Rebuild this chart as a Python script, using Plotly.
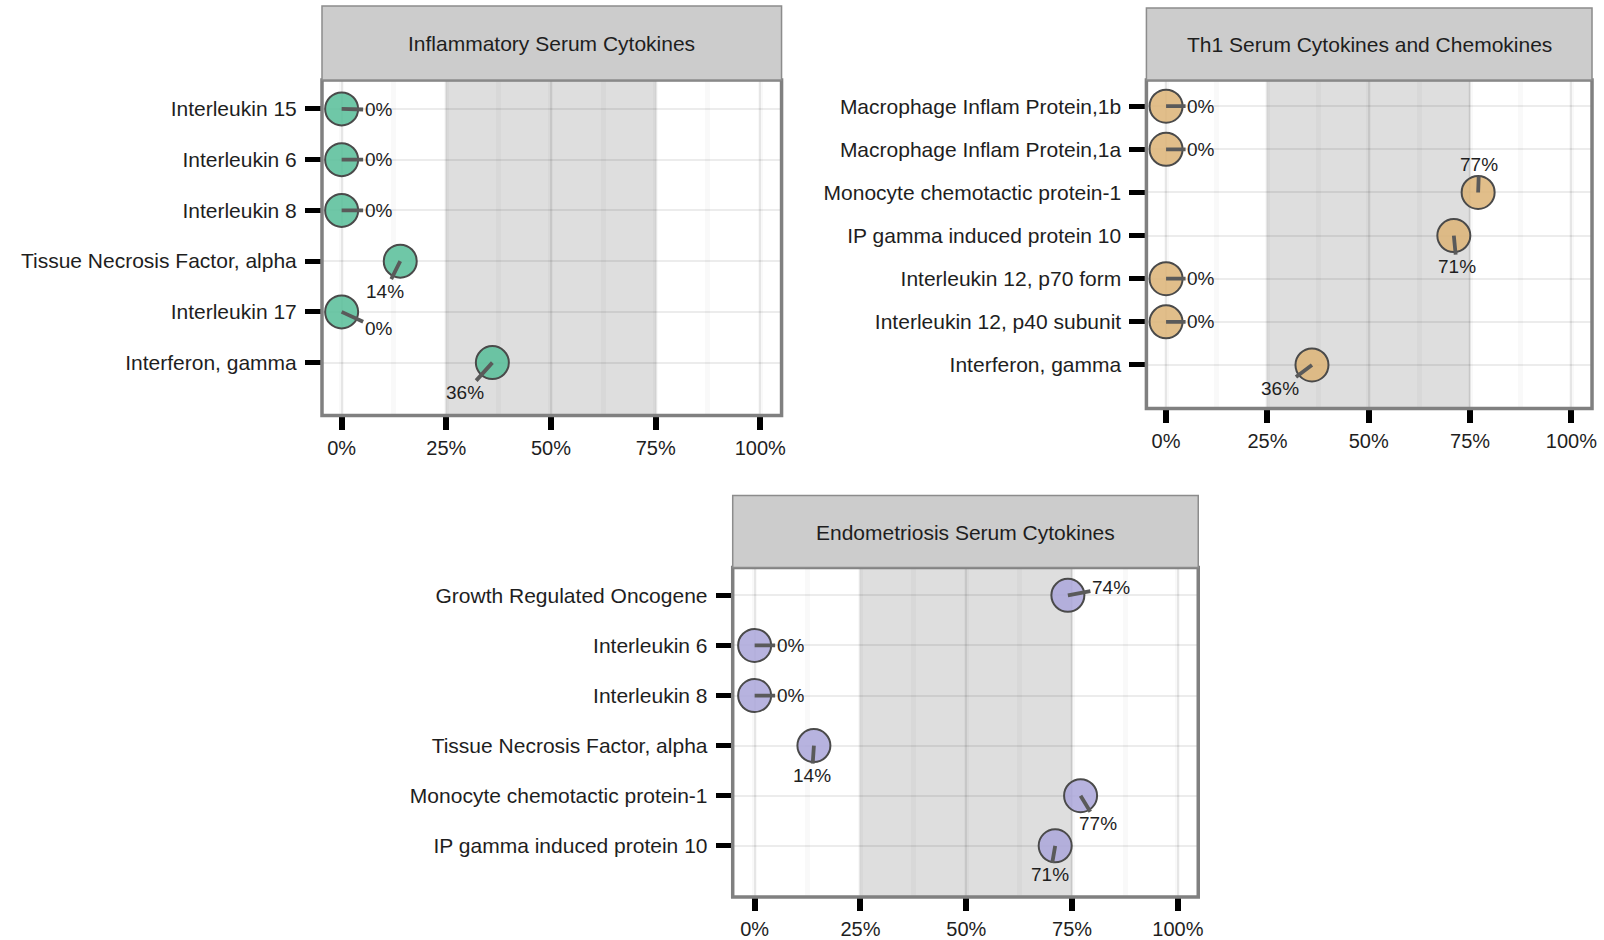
import plotly.graph_objects as go

# ---- data -------------------------------------------------------------
infl_title = "Inflammatory Serum Cytokines"
infl_markers = ["Interleukin 15", "Interleukin 6", "Interleukin 8",
                "Tissue Necrosis Factor, alpha", "Interleukin 17",
                "Interferon, gamma"]
infl_pct = [0, 0, 0, 14, 0, 36]

th1_title = "Th1 Serum Cytokines and Chemokines"
th1_markers = ["Macrophage Inflam Protein,1b", "Macrophage Inflam Protein,1a",
               "Monocyte chemotactic protein-1", "IP gamma induced protein 10",
               "Interleukin 12, p70 form", "Interleukin 12, p40 subunit",
               "Interferon, gamma"]
th1_pct = [0, 0, 77, 71, 0, 0, 36]

endo_title = "Endometriosis Serum Cytokines"
endo_markers = ["Growth Regulated Oncogene", "Interleukin 6", "Interleukin 8",
                "Tissue Necrosis Factor, alpha", "Monocyte chemotactic protein-1",
                "IP gamma induced protein 10"]
endo_pct = [74, 0, 0, 14, 77, 71]

x_tick_vals = [0, 25, 50, 75, 100]
x_tick_text = ["0%", "25%", "50%", "75%", "100%"]
band_lo, band_hi = 25, 75

# ---- styling / placement ---------------------------------------------
W, H = 1604, 940
FONT = "Liberation Sans, Arial, sans-serif"
TXT = "#1e1e1e"

# label offsets (pixels) relative to each point
infl_offsets = [(37, 1), (37, 0), (37, 0), (-15, 30), (37, 17), (-27, 30)]
th1_offsets = [(35, 0), (35, 0), (1, -28), (3, 31), (35, 0), (35, 0), (-32, 24)]
endo_offsets = [(43, -8), (36, 0), (36, 0), (-2, 30), (17, 28), (-5, 29)]

panels = [
    dict(title=infl_title, names=infl_markers, vals=infl_pct, offs=infl_offsets,
         color="rgba(91,191,155,0.88)", box=(323, 784, 80, 416), strip=(6, 80),
         xr=[-4.69, 105.07], yr=[6.043, -0.571]),
    dict(title=th1_title, names=th1_markers, vals=th1_pct, offs=th1_offsets,
         color="rgba(221,181,122,0.88)", box=(1150, 1597, 80, 409), strip=(8, 80),
         xr=[-4.85, 105.1], yr=[7.01, -0.609]),
    dict(title=endo_title, names=endo_markers, vals=endo_pct, offs=endo_offsets,
         color="rgba(173,168,219,0.88)", box=(735, 1202, 568, 898), strip=(496, 568),
         xr=[-5.18, 104.8], yr=[6.023, -0.558]),
]


def px_x(v):
    return v / W


def px_y(v):
    return 1 - v / H


fig = go.Figure()
shapes = []
annotations = []
layout_axes = {}

for i, p in enumerate(panels, start=1):
    sfx = "" if i == 1 else str(i)
    xa, ya = "x" + sfx, "y" + sfx
    x0, x1, y0, y1 = p["box"]
    idx = list(range(len(p["names"])))

    layout_axes["xaxis" + sfx] = dict(
        domain=[px_x(x0), px_x(x1)], anchor=ya, range=p["xr"],
        tickvals=x_tick_vals, ticktext=x_tick_text,
        ticks="outside", ticklen=13, tickwidth=6, tickcolor="black",
        ticklabelstandoff=1,
        tickfont=dict(family=FONT, size=20, color=TXT),
        showgrid=True, gridcolor="rgba(0,0,0,0.075)", gridwidth=2,
        minor=dict(dtick=12.5, tick0=0, showgrid=True,
                   gridcolor="rgba(0,0,0,0.022)", gridwidth=5, ticks=""),
        zeroline=False, showline=False, fixedrange=True,
    )
    layout_axes["yaxis" + sfx] = dict(
        domain=[px_y(y1), px_y(y0)], anchor=xa, range=p["yr"],
        tickvals=idx, ticktext=p["names"],
        ticks="outside", ticklen=16, tickwidth=5, tickcolor="black",
        ticklabelstandoff=4,
        tickfont=dict(family=FONT, size=21, color=TXT),
        showgrid=True, gridcolor="rgba(0,0,0,0.075)", gridwidth=2,
        zeroline=False, showline=False, fixedrange=True,
    )

    # shaded middle band (below the grid)
    shapes.append(dict(type="rect", xref=xa, yref=ya + " domain",
                       x0=band_lo, x1=band_hi, y0=0, y1=1,
                       fillcolor="#dedede", line=dict(width=0), layer="below"))
    # panel border
    shapes.append(dict(type="rect", xref="paper", yref="paper",
                       x0=px_x(x0), x1=px_x(x1), y0=px_y(y1), y1=px_y(y0),
                       line=dict(color="#808080", width=3.5), layer="above"))
    # strip header
    s0, s1 = p["strip"]
    shapes.append(dict(type="rect", xref="paper", yref="paper",
                       x0=px_x(x0), x1=px_x(x1), y0=px_y(s1), y1=px_y(s0),
                       fillcolor="#cccccc", line=dict(color="#8c8c8c", width=1.5),
                       layer="above"))
    annotations.append(dict(xref="paper", yref="paper",
                            x=px_x((x0 + x1) / 2), y=px_y((s0 + s1) / 2 + 1),
                            text=p["title"], showarrow=False,
                            xanchor="center", yanchor="middle",
                            font=dict(family=FONT, size=21, color=TXT)))

    fig.add_trace(go.Scatter(
        x=p["vals"], y=idx, xaxis=xa, yaxis=ya, mode="markers",
        marker=dict(size=33, color=p["color"],
                    line=dict(color="#4a4a4a", width=2)),
        hoverinfo="skip", showlegend=False,
    ))

    # value labels with leader segments
    for v, j, (dx, dy) in zip(p["vals"], idx, p["offs"]):
        annotations.append(dict(
            xref=xa, yref=ya, x=v, y=j, text=f"{v}%",
            showarrow=True, arrowhead=0, arrowwidth=3.8, arrowcolor="#5a5a5a",
            standoff=0, startstandoff=0, ax=dx, ay=dy,
            font=dict(family=FONT, size=19, color=TXT),
        ))

fig.update_layout(
    width=W, height=H,
    margin=dict(l=0, r=0, t=0, b=0),
    paper_bgcolor="white", plot_bgcolor="white",
    showlegend=False,
    shapes=shapes, annotations=annotations,
    **layout_axes,
)

fig.write_html("out.html", config={"displayModeBar": False})
